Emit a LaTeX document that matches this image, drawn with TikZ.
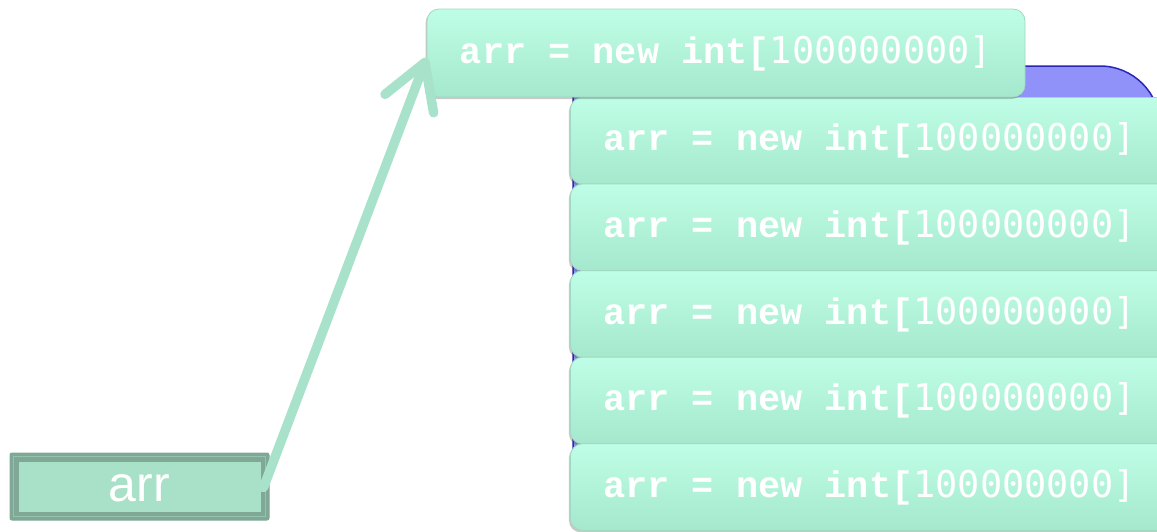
\documentclass[tikz,border=0pt]{standalone}
\usepackage{fontspec}
\setmainfont{Liberation Sans}
\newfontfamily\codefont{Liberation Mono}
\newfontfamily\digitfont{DejaVu Sans Mono}
\usetikzlibrary{arrows.meta,shadows}
\definecolor{mintTop}{HTML}{BEFEE6}
\definecolor{mintBot}{HTML}{A5E8CD}
\definecolor{mintEdge}{HTML}{9FD9C1}
\definecolor{arrowMint}{HTML}{A8E2CB}
\definecolor{arrDark}{HTML}{7FA996}
\definecolor{arrBevel}{HTML}{95C2AC}
\definecolor{arrFill}{HTML}{A9E1C8}
\definecolor{blueFill}{HTML}{9191FA}
\definecolor{blueEdge}{HTML}{2A26B5}
\newcommand{\codeline}{{\codefont\bfseries arr = new int[}{\digitfont 100000000]}}
\newcommand{\stackline}{\makebox[560pt][l]{\codeline}}
\tikzset{
  codebox/.style={rounded corners=12pt, top color=mintTop, bottom color=mintBot,
    draw=mintEdge, line width=0.8pt, text=white, font=\fontsize{36.9}{40}\selectfont,
    drop shadow={shadow xshift=-1.5pt, shadow yshift=-2pt, opacity=0.3, fill=black!70}},
  stackbox/.style={codebox, anchor=north west, minimum height=86.6pt, inner ysep=0pt,
    inner xsep=33pt},
  topbox/.style={codebox, minimum width=598pt, minimum height=88pt, inner sep=0pt},
  connector/.style={arrowMint, line width=9.5pt, line cap=round,
    -{Straight Barb[length=44pt, width=52pt, line cap=round, round]}}
}
\begin{document}
\begin{tikzpicture}[x=1pt,y=-1pt]
\useasboundingbox (0,0) rectangle (1157,531);
\clip (0,0) rectangle (1157,531);
% blue backing panel
\filldraw[fill=blueFill, draw=blueEdge, line width=1.5pt]
  (573,520) -- (573,66) [rounded corners=60pt] -- (1160,66) [sharp corners] -- (1160,520) -- cycle;
% stack of boxes
\node[stackbox] (s1) at (570,97) {\stackline};
\node[stackbox] (s2) at (570,183.6) {\stackline};
\node[stackbox] (s3) at (570,270.2) {\stackline};
\node[stackbox] (s4) at (570,356.8) {\stackline};
\node[stackbox] (s5) at (570,443.4) {\stackline};
% top box
\node[topbox] (top) at (726,53) {\codeline};
% arr box
\node[draw=arrDark, fill=arrDark, line width=1pt, rounded corners=2pt,
  minimum width=259pt, minimum height=67pt, inner sep=0pt] (arr) at (139.5,486.5) {};
\draw[arrBevel, line width=1.5pt] ([xshift=4pt,yshift=-4pt]arr.north west) rectangle ([xshift=-4pt,yshift=4pt]arr.south east);
\fill[arrFill] ([xshift=9pt,yshift=-9pt]arr.north west) rectangle ([xshift=-9pt,yshift=9pt]arr.south east);
\node[text=white, font=\fontsize{50}{52}\selectfont, inner sep=0pt] (arrlabel) at ([yshift=-2pt]arr.center) {arr};
% connector
\draw[connector] ([xshift=-6pt,yshift=-1pt]arr.east) -- ([yshift=-5pt]top.west);
\end{tikzpicture}
\end{document}
